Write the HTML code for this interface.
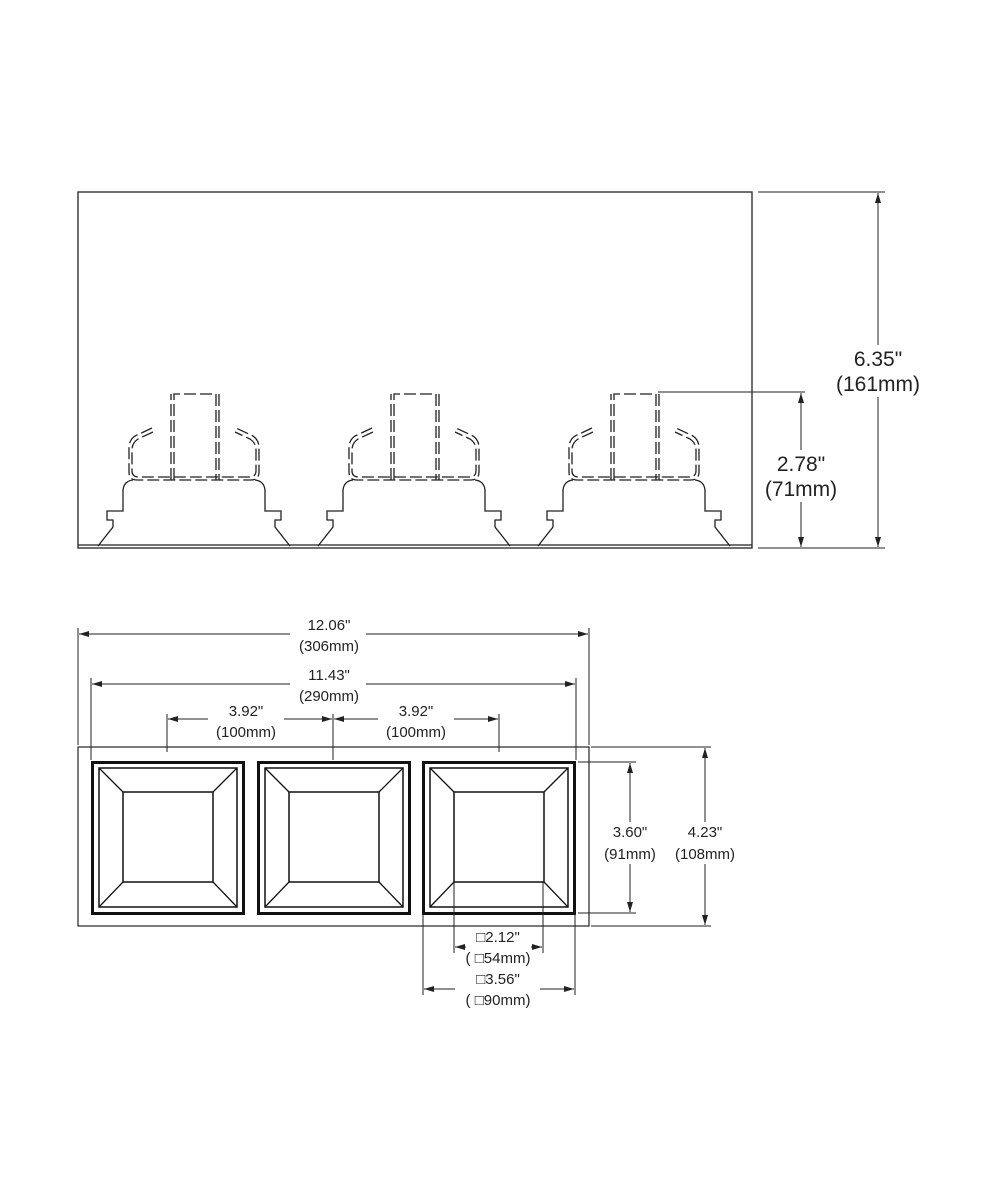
<!DOCTYPE html>
<html><head><meta charset="utf-8"><style>html,body{margin:0;background:#fff}svg{display:block}text{font-family:"Liberation Sans",sans-serif;fill:#222;text-anchor:middle}</style></head><body>
<svg width="1000" height="1200" viewBox="0 0 1000 1200" xmlns="http://www.w3.org/2000/svg">
<defs>
<marker id="a" viewBox="0 0 10 6" refX="10" refY="3" markerWidth="10" markerHeight="6" orient="auto-start-reverse" markerUnits="userSpaceOnUse"><path d="M0,0L10,3L0,6z" fill="#222"/></marker>
<g id="u" fill="none" stroke="#222" stroke-width="1.3">
<g stroke-dasharray="12,4">
<path d="M174,480V394H216V480"/><path d="M171,480V394M219,394V480"/>
<path d="M152,428L135,436Q129,440 129,448V472Q129,480 137,480H251Q259,480 259,472V448Q259,440 253,436L236,428"/>
<path d="M153,432L138,439Q132,443 132,450V471Q132,477 139,477H249Q256,477 256,471V450Q256,443 250,439L235,432"/>
</g>
<path d="M133,480Q124,481 123,490V511H107V520H113V527L98,546"/>
<path d="M255,480Q264,481 265,490V511H281V520H275V527L290,546"/>
</g>
</defs>
<rect x="78" y="192" width="674" height="356" fill="none" stroke="#222" stroke-width="1.3"/>
<line x1="78" y1="545" x2="752" y2="545" stroke="#222" stroke-width="1.3"/>
<use href="#u"/><use href="#u" x="220"/><use href="#u" x="440"/>
<g stroke="#222" stroke-width="1" fill="none">
<path d="M758,192H885M758,548H885M658,392H805"/>
<line x1="878" y1="193" x2="878" y2="547" marker-start="url(#a)" marker-end="url(#a)"/>
<line x1="801" y1="393" x2="801" y2="547" marker-start="url(#a)" marker-end="url(#a)"/>
</g>
<rect x="835" y="345" width="90" height="52" fill="#fff"/>
<text x="878" y="366" font-size="21">6.35"</text><text x="878" y="391" font-size="21">(161mm)</text>
<rect x="760" y="450" width="82" height="52" fill="#fff"/>
<text x="801" y="471" font-size="21">2.78"</text><text x="801" y="496" font-size="21">(71mm)</text>
<rect x="78" y="747" width="511" height="179" fill="none" stroke="#222" stroke-width="1.2"/>
<g fill="none" stroke="#111">
<g id="b">
<rect x="92.5" y="762.5" width="151" height="151" stroke-width="3"/>
<rect x="99" y="768" width="138" height="139" stroke-width="1.5"/>
<rect x="123" y="792" width="90" height="90" stroke-width="1.5"/>
<path d="M99,768L123,792M237,768L213,792M99,907L123,882M237,907L213,882" stroke-width="1.3"/>
</g>
<use href="#b" x="166"/><use href="#b" x="331"/>
</g>
<g stroke="#222" stroke-width="1" fill="none">
<path d="M78,628V745M589,628V745M91,678V760M576,678V760M167,714V752M333,714V760M499,714V752"/>
<line x1="79" y1="634" x2="588" y2="634" marker-start="url(#a)" marker-end="url(#a)"/>
<line x1="92" y1="684" x2="575" y2="684" marker-start="url(#a)" marker-end="url(#a)"/>
<line x1="168" y1="719" x2="332" y2="719" marker-start="url(#a)" marker-end="url(#a)"/>
<line x1="334" y1="719" x2="498" y2="719" marker-start="url(#a)" marker-end="url(#a)"/>
<path d="M578,762H636M578,913H636M591,747H711M591,926H711"/>
<line x1="630" y1="763" x2="630" y2="912" marker-start="url(#a)" marker-end="url(#a)"/>
<line x1="705" y1="748" x2="705" y2="925" marker-start="url(#a)" marker-end="url(#a)"/>
<path d="M454,882V953M543,882V953M423,913V995M575,913V995"/>
<line x1="466" y1="947" x2="455" y2="947" marker-end="url(#a)"/>
<line x1="531" y1="947" x2="542" y2="947" marker-end="url(#a)"/>
<line x1="424" y1="989" x2="574" y2="989" marker-start="url(#a)" marker-end="url(#a)"/>
</g>
<g font-size="15">
<rect x="290" y="616" width="76" height="40" fill="#fff"/>
<text x="329" y="630">12.06"</text><text x="329" y="651">(306mm)</text>
<rect x="290" y="666" width="76" height="40" fill="#fff"/>
<text x="329" y="680">11.43"</text><text x="329" y="701">(290mm)</text>
<rect x="208" y="702" width="76" height="40" fill="#fff"/>
<text x="246" y="716">3.92"</text><text x="246" y="737">(100mm)</text>
<rect x="378" y="702" width="76" height="40" fill="#fff"/>
<text x="416" y="716">3.92"</text><text x="416" y="737">(100mm)</text>
<rect x="598" y="822" width="66" height="42" fill="#fff"/>
<text x="630" y="837">3.60"</text><text x="630" y="859">(91mm)</text>
<rect x="670" y="822" width="72" height="42" fill="#fff"/>
<text x="705" y="837">4.23"</text><text x="705" y="859">(108mm)</text>
<text x="498" y="942">□2.12"</text><text x="498" y="963">( □54mm)</text>
<rect x="455" y="970" width="85" height="40" fill="#fff"/>
<text x="498" y="984">□3.56"</text><text x="498" y="1005">( □90mm)</text>
</g>
</svg>
</body></html>
